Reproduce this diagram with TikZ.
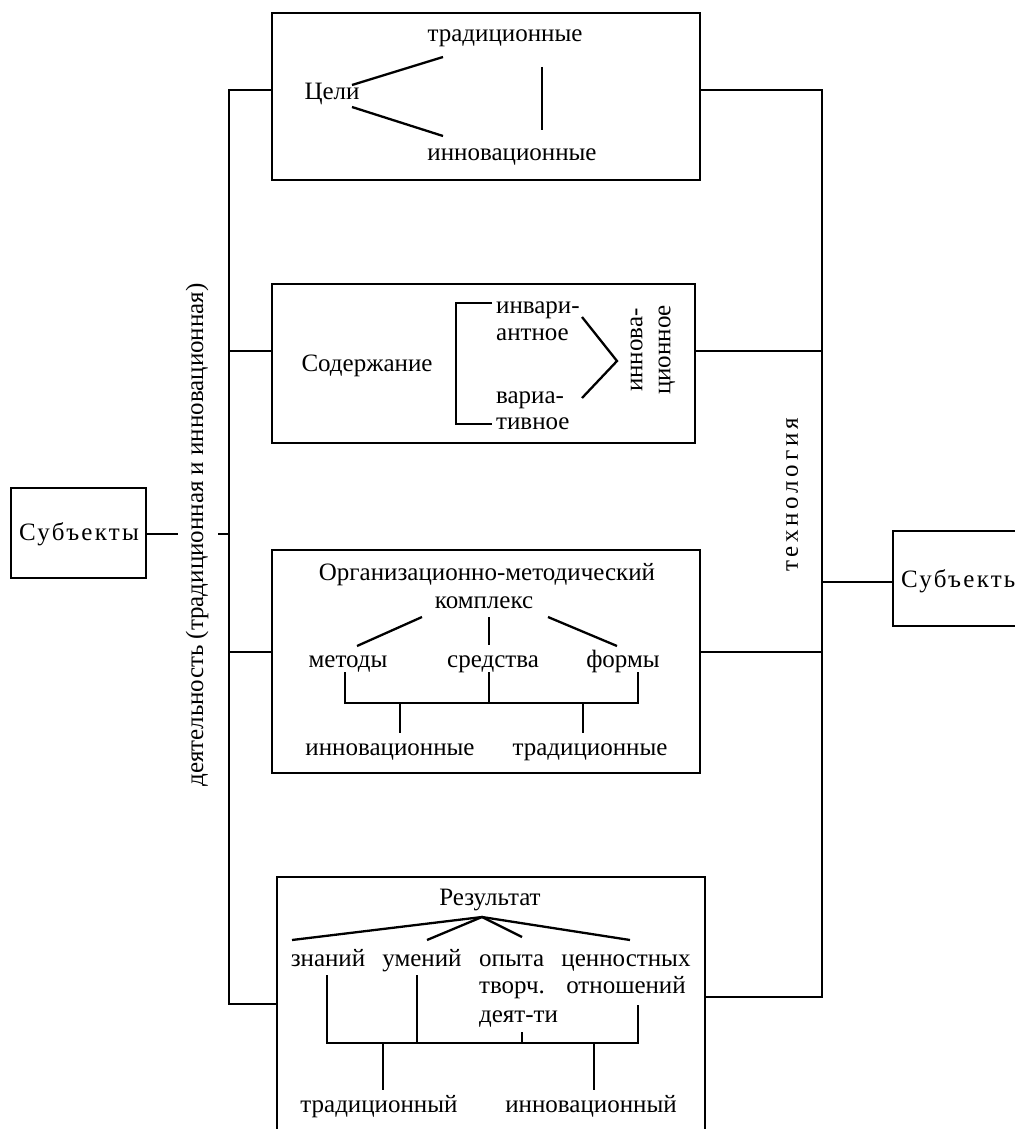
\documentclass[tikz,border=0pt]{standalone}
\usepackage{fontspec}
\setmainfont{Liberation Serif}
\newfontfamily\spacedfont[LetterSpace=15]{Liberation Serif}
\newfontfamily\subfont[LetterSpace=9]{Liberation Serif}
\begin{document}
\begin{tikzpicture}[x=0.5pt,y=-0.5pt, line width=1.15pt,
  box/.style={draw, rectangle, inner sep=0pt},
  txt/.style={inner sep=0pt, font=\fontsize{12.5}{14}\selectfont},
  bt/.style={txt, anchor=base},
  bw/.style={txt, anchor=base west},
  ml/.style={txt, align=center}]
\useasboundingbox (0,0) rectangle (1014,1129);
% boxes
\node[box, minimum width=214pt, minimum height=83.5pt] (b1) at (486,96.5) {};
\node[box, minimum width=211.5pt, minimum height=79.5pt] (b2) at (483.5,363.5) {};
\node[box, minimum width=214pt, minimum height=111.5pt] (b3) at (486,661.5) {};
\node[box, minimum width=214pt, minimum height=141.5pt] (b4) at (491,1018.5) {};
\node[box, minimum width=67.5pt, minimum height=45pt] (sl) at (78.5,533) {};
\node[bt] (slt) at (79,540) {\subfont Субъекты};
\node[box, minimum width=83.5pt, minimum height=47.5pt] (sr) at (976.5,578.5) {};
\node[bw] (srt) at (900,587) {\subfont Субъекты};
% spines
\coordinate (L1) at (229,90); \coordinate (L2) at (229,351);
\coordinate (L3) at (229,652); \coordinate (L4) at (229,1004);
\coordinate (LS) at (229,534);
\coordinate (R1) at (822,90); \coordinate (R2) at (822,351);
\coordinate (R3) at (822,652); \coordinate (R4) at (822,997);
\coordinate (RS) at (822,582);
\draw (b1.west |- L1) -- (L1) -- (L4) -- (b4.west |- L4);
\draw (b2.west |- L2) -- (L2);
\draw (b3.west |- L3) -- (L3);
\draw (b1.east |- R1) -- (R1) -- (R4) -- (b4.east |- R4);
\draw (b2.east |- R2) -- (R2);
\draw (b3.east |- R3) -- (R3);
\draw (sr.west |- RS) -- (RS);
\coordinate (G1) at (178,534); \coordinate (G2) at (218,534);
\draw (sl.east |- G1) -- (G1);
\draw (G2) -- (LS);
% rotated labels
\node[txt, rotate=90] (act) at (197,535) {деятельность (традиционная и инновационная)};
\node[txt, rotate=90] (tech) at (792,495) {\spacedfont технология};
% box 1
\node[bt] (goal) at (332,100) {Цели};
\node[bt] (g1t) at (505,42) {традиционные};
\node[bt] (g1i) at (512,160) {инновационные};
\coordinate (c1a) at (352,85); \coordinate (c1b) at (443,57);
\coordinate (c1c) at (352,107); \coordinate (c1d) at (443,136);
\coordinate (c1e) at (542,67); \coordinate (c1f) at (542,130);
\draw (c1a) -- (c1b); \draw (c1c) -- (c1d); \draw (c1e) -- (c1f);
% box 2
\node[bt] (cont) at (367,371) {Содержание};
\node[bw] (inv1) at (495,313) {инвари-};
\node[bw] (inv2) at (495,340) {антное};
\node[bw] (var1) at (495,403) {вариа-};
\node[bw] (var2) at (495,429) {тивное};
\coordinate (k1) at (492,303); \coordinate (k2) at (456,303);
\coordinate (k3) at (456,424); \coordinate (k4) at (492,424);
\draw (k1) -- (k2) -- (k3) -- (k4);
\coordinate (v1) at (582,317); \coordinate (v2) at (617,361); \coordinate (v3) at (582,398);
\draw (v1) -- (v2) -- (v3);
\node[ml, rotate=90] (innc) at (653,350) {иннова-\\ционное};
% box 3
\node[bt] (org) at (487,580) {Организационно-методический};
\node[bt] (kom) at (484,608) {комплекс};
\node[bt] (met) at (348,667) {методы};
\node[bt] (sred) at (493,667) {средства};
\node[bt] (form) at (623,667) {формы};
\node[bt] (in3) at (390,755) {инновационные};
\node[bt] (tr3) at (590,755) {традиционные};
\coordinate (m1) at (422,617); \coordinate (m2) at (357,646);
\coordinate (m3) at (489,617); \coordinate (m4) at (489,645);
\coordinate (m5) at (548,617); \coordinate (m6) at (617,646);
\draw (m1) -- (m2); \draw (m3) -- (m4); \draw (m5) -- (m6);
\coordinate (n1) at (345,672); \coordinate (n2) at (345,703);
\coordinate (n3) at (638,703); \coordinate (n4) at (638,672);
\coordinate (n5) at (489,672); \coordinate (n6) at (489,703);
\coordinate (n7) at (400,703); \coordinate (n8) at (400,733);
\coordinate (n9) at (583,703); \coordinate (n10) at (583,733);
\draw (n1) -- (n2) -- (n3) -- (n4);
\draw (n5) -- (n6); \draw (n7) -- (n8); \draw (n9) -- (n10);
% box 4
\node[bt] (res) at (490,905) {Результат};
\node[bt] (zn) at (328,966) {знаний};
\node[bt] (um) at (422,966) {умений};
\node[bw] (op1) at (478,966) {опыта};
\node[bw] (op2) at (478,993) {творч.};
\node[bw] (op3) at (478,1022) {деят-ти};
\node[bt] (cen1) at (626,966) {ценностных};
\node[bt] (cen2) at (626,993) {отношений};
\node[bt] (tr4) at (379,1112) {традиционный};
\node[bt] (in4) at (591,1112) {инновационный};
\coordinate (ap) at (482,917);
\coordinate (a1) at (292,940); \coordinate (a2) at (427,940);
\coordinate (a3) at (522,937); \coordinate (a4) at (630,940);
\draw (a1) -- (ap) -- (a4); \draw (a2) -- (ap) -- (a3);
\coordinate (q1) at (327,975); \coordinate (q2) at (327,1043);
\coordinate (q3) at (638,1043); \coordinate (q4) at (638,1005);
\coordinate (q5) at (417,975); \coordinate (q6) at (417,1043);
\coordinate (q7) at (522,1032); \coordinate (q8) at (522,1043);
\coordinate (q9) at (383,1043); \coordinate (q10) at (383,1090);
\coordinate (q11) at (594,1043); \coordinate (q12) at (594,1090);
\draw (q1) -- (q2) -- (q3) -- (q4);
\draw (q5) -- (q6); \draw (q7) -- (q8); \draw (q9) -- (q10); \draw (q11) -- (q12);
\end{tikzpicture}
\end{document}
